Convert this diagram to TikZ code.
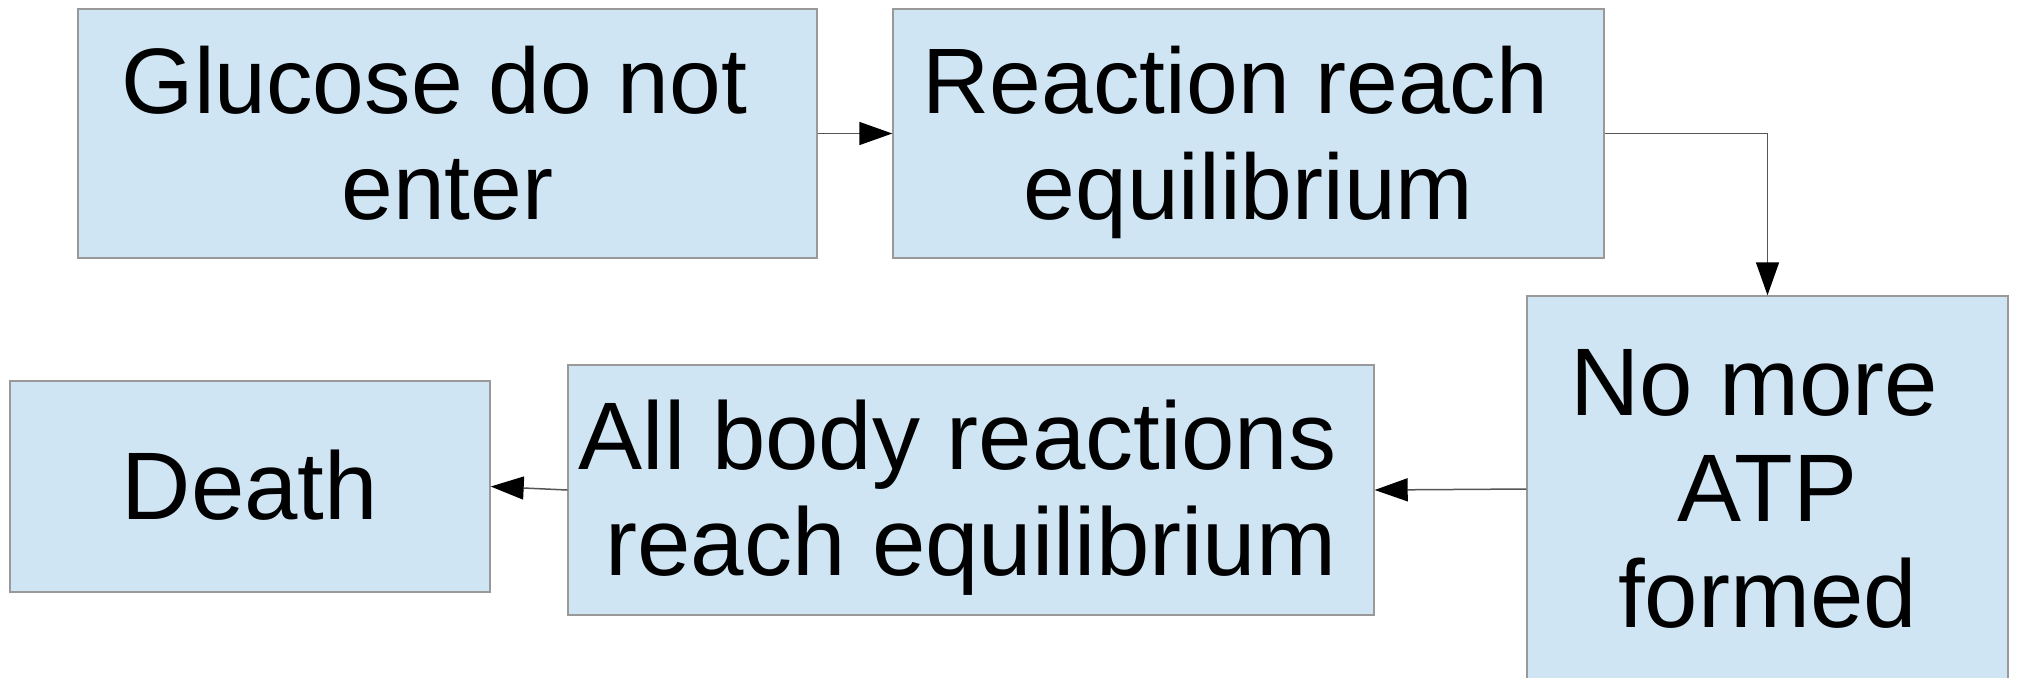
\documentclass[tikz,border=0pt]{standalone}
\usepackage{fontspec}
\setmainfont{Liberation Sans}
\usetikzlibrary{arrows.meta}
\definecolor{boxfill}{HTML}{CFE5F3}
\definecolor{boxline}{HTML}{999999}
\definecolor{connline}{HTML}{555555}
\newcommand{\tsp}{\hspace*{0.278em}}
\newcommand{\ls}{\rule[-10pt]{0pt}{52.5pt}}
\tikzset{
  stepbox/.style={draw=boxline, line width=0.7pt, fill=boxfill, inner sep=0pt,
    align=center, font=\fontsize{46.5pt}{53pt}\selectfont},
  bigtext/.style={font=\fontsize{48pt}{53pt}\selectfont},
  conn/.style={draw=connline, line width=0.75pt,
    -{Triangle[length=16.5pt,width=11.5pt,color=black]}}
}
\begin{document}
\begin{tikzpicture}[x=0.5pt,y=-0.5pt]
\useasboundingbox (0,0) rectangle (2018,677);
\node[stepbox, minimum width=369.5pt, minimum height=124.5pt] (b1) at (447.5,133.5)
  {\ls Glucose do not\tsp\\\ls enter};
\node[stepbox, minimum width=355.5pt, minimum height=124.5pt] (b2) at (1248.5,133.5)
  {\ls Reaction reach\tsp\\\ls equilibrium};
\node[stepbox, bigtext, minimum width=240.5pt, minimum height=193pt] (b3) at (1767.5,489)
  {\ls No more\tsp\\\ls ATP\tsp\\\ls formed};
\node[stepbox, bigtext, minimum width=403pt, minimum height=125pt] (b4) at (971,490)
  {\ls All body reactions\tsp\\\ls reach equilibrium};
\node[stepbox, bigtext, minimum width=240pt, minimum height=105.5pt] (b5) at (250,486.5)
  {\ls Death};
\draw[conn] (b1.east) -- (b2.west);
\draw[conn] (b2.east) -| (b3.north);
\draw[conn] (b3.west) -- (b4.east);
\draw[conn] (b4.west) -- (b5.east);
\end{tikzpicture}
\end{document}
